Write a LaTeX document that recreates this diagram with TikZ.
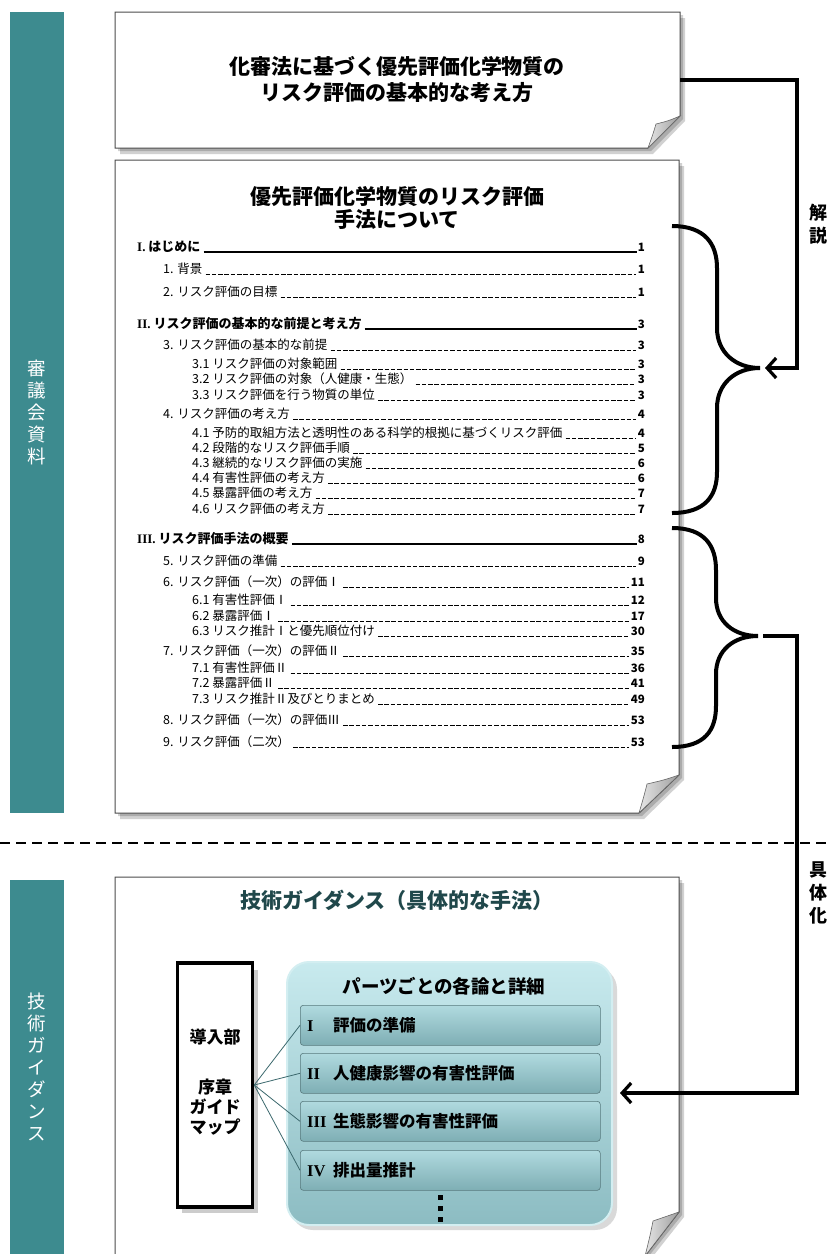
\documentclass[tikz,border=0pt]{standalone}
\usepackage{fontspec}
\newfontfamily\jp{Noto Sans CJK JP}
\newfontfamily\lserif{Liberation Serif}
\usetikzlibrary{arrows.meta,calc}
\definecolor{teal1}{RGB}{61,139,143}
\definecolor{gtitle}{RGB}{32,72,75}
\definecolor{pnlTop}{RGB}{200,234,238}
\definecolor{pnlBot}{RGB}{140,188,194}
\definecolor{rowTop}{RGB}{176,218,223}
\definecolor{rowBot}{RGB}{126,174,180}
\definecolor{fanc}{RGB}{60,105,110}
\tikzset{
  paper/.style={fill=white, draw=black!70, line width=1pt},
  papershadow/.style={fill=black, opacity=0.18},
  flap/.style={draw=black!60, line width=0.6pt, left color=black!10, right color=black!38},
  sidebar/.style={fill=teal1, text=white, inner sep=0pt, minimum width=54pt, align=center,
     font=\jp\fontsize{18.5}{22}\selectfont},
  doctitle/.style={font=\jp\bfseries\fontsize{21}{26}\selectfont, align=center, inner sep=0pt},
  tocA/.style={font=\jp\bfseries\fontsize{13}{15}\selectfont, inner sep=0pt},
  tocB/.style={font=\jp\fontsize{12.5}{15}\selectfont, inner sep=0pt},
  tocAlead/.style={line width=1.6pt, shorten <=3pt, shorten >=1pt},
  tocBlead/.style={line width=1pt, dash pattern=on 4.5pt off 1.8pt, shorten <=3pt, shorten >=2pt},
  pagenum/.style={font=\jp\bfseries\fontsize{11.5}{14}\selectfont, inner sep=0pt},
  brace/.style={line width=4pt},
  conn/.style={line width=3.2pt},
  barb/.style={-{Straight Barb[length=9pt,width=20pt]}},
  sidelabel/.style={font=\jp\bfseries\fontsize{18}{23}\selectfont, align=center, inner sep=0pt},
  guidebox/.style={draw=black, line width=3.5pt, fill=white, minimum width=75pt, minimum height=244pt, inner sep=0pt},
  guidetext/.style={font=\jp\bfseries\fontsize{17}{20}\selectfont, align=center, inner sep=0pt},
  rowbox/.style={draw=rowBot!70!black, line width=0.6pt, rounded corners=3pt, top color=rowTop, bottom color=rowBot,
     minimum width=300pt, minimum height=40pt, inner sep=0pt},
  rowtext/.style={font=\jp\bfseries\fontsize{16.5}{20}\selectfont, inner sep=0pt},
  fan/.style={draw=fanc, line width=0.8pt},
}
\newcommand\tocline[6]{%
  \node[#2, anchor=base west] (#1) at (#3,#4) {#5};
  \node[pagenum, anchor=base east] (#1p) at (645,#4) {#6};
  \draw[#2lead] ([yshift=-1pt]#1.base east) -- ([yshift=-1pt]#1p.base west);
}
\newcommand\rn[1]{\makebox[26pt][l]{\lserif\bfseries #1}}
\begin{document}
\begin{tikzpicture}[x=1pt,y=-1pt]
\useasboundingbox (0,0) rectangle (830,1254);
\fill[white] (0,0) rectangle (830,1254);

% side bars
\node[sidebar, minimum height=801pt, anchor=north west] (sb1) at (10,12) {審\\議\\会\\資\\料};
\node[sidebar, minimum height=374pt, anchor=north west] (sb2) at (10,880) {技\\術\\ガ\\イ\\ダ\\ン\\ス};

% ---------- document 1
\fill[papershadow] (120,18) -- (685,18) -- (685,121) -- (653,154) -- (120,154) -- cycle;
\fill[papershadow] (118,15) -- (683,15) -- (683,119) -- (651,151) -- (118,151) -- cycle;
\draw[paper] (115,12) -- (680,12) -- (680,116) -- (648,148) -- (115,148) -- cycle;
\draw[flap] (680,116) .. controls (668,121) .. (656,124) .. controls (653,134) .. (648,148) -- cycle;
\node[doctitle] (d1t) at (397,80) {化審法に基づく優先評価化学物質の\\リスク評価の基本的な考え方};
\coordinate (d1e) at (680,80);

% ---------- document 2
\fill[papershadow] (120,166) -- (684,166) -- (684,780) -- (644,819) -- (120,819) -- cycle;
\fill[papershadow] (118,163) -- (682,163) -- (682,778) -- (642,816) -- (118,816) -- cycle;
\draw[paper] (115,160) -- (679,160) -- (679,775) -- (639,813) -- (115,813) -- cycle;
\draw[flap] (679,775) .. controls (664,780) .. (647,784) .. controls (644,796) .. (639,813) -- cycle;
\node[doctitle, font=\jp\bfseries\fontsize{21}{23}\selectfont] (d2t) at (397,208) {優先評価化学物質のリスク評価\\手法について};

\tocline{e1}{tocA}{137}{251}{{\lserif\bfseries I.} はじめに}{1}
\tocline{e2}{tocB}{163}{273}{1. 背景}{1}
\tocline{e3}{tocB}{163}{296}{2. リスク評価の目標}{1}
\tocline{e4}{tocA}{137}{328}{{\lserif\bfseries II.} リスク評価の基本的な前提と考え方}{3}
\tocline{e5}{tocB}{163}{349}{3. リスク評価の基本的な前提}{3}
\tocline{e6}{tocB}{192}{368}{3.1 リスク評価の対象範囲}{3}
\tocline{e7}{tocB}{192}{383}{3.2 リスク評価の対象（人健康・生態）}{3}
\tocline{e8}{tocB}{192}{399}{3.3 リスク評価を行う物質の単位}{3}
\tocline{e9}{tocB}{163}{418}{4. リスク評価の考え方}{4}
\tocline{e10}{tocB}{192}{437}{4.1 予防的取組方法と透明性のある科学的根拠に基づくリスク評価}{4}
\tocline{e11}{tocB}{192}{452}{4.2 段階的なリスク評価手順}{5}
\tocline{e12}{tocB}{192}{467}{4.3 継続的なリスク評価の実施}{6}
\tocline{e13}{tocB}{192}{482}{4.4 有害性評価の考え方}{6}
\tocline{e14}{tocB}{192}{497}{4.5 暴露評価の考え方}{7}
\tocline{e15}{tocB}{192}{513}{4.6 リスク評価の考え方}{7}
\tocline{e16}{tocA}{137}{543}{{\lserif\bfseries III.} リスク評価手法の概要}{8}
\tocline{e17}{tocB}{163}{565}{5. リスク評価の準備}{9}
\tocline{e18}{tocB}{163}{586}{6. リスク評価（一次）の評価Ⅰ}{11}
\tocline{e19}{tocB}{192}{604}{6.1 有害性評価Ⅰ}{12}
\tocline{e20}{tocB}{192}{620}{6.2 暴露評価Ⅰ}{17}
\tocline{e21}{tocB}{192}{635}{6.3 リスク推計Ⅰと優先順位付け}{30}
\tocline{e22}{tocB}{163}{655}{7. リスク評価（一次）の評価Ⅱ}{35}
\tocline{e23}{tocB}{192}{672}{7.1 有害性評価Ⅱ}{36}
\tocline{e24}{tocB}{192}{687}{7.2 暴露評価Ⅱ}{41}
\tocline{e25}{tocB}{192}{703}{7.3 リスク推計Ⅱ及びとりまとめ}{49}
\tocline{e26}{tocB}{163}{724}{8. リスク評価（一次）の評価Ⅲ}{53}
\tocline{e27}{tocB}{163}{746}{9. リスク評価（二次）}{53}

% braces
\draw[brace] (672,226) .. controls (705,226) and (717,244) .. (717,268) -- (717,328)
  .. controls (717,352) and (735,368) .. (760,368)
  .. controls (735,368) and (717,384) .. (717,408) -- (717,472)
  .. controls (717,496) and (705,513) .. (672,513);
\draw[brace] (672,528) .. controls (705,528) and (716,546) .. (716,570) -- (716,598)
  .. controls (716,622) and (734,636) .. (758,636)
  .. controls (734,636) and (716,650) .. (716,674) -- (716,706)
  .. controls (716,730) and (705,747) .. (672,747);
\coordinate (b1tip) at (765,368);
\coordinate (b2tip) at (763,636);
\coordinate (rail1) at (797,80);
\coordinate (rail2) at (797,636);

% connectors
\draw[conn, barb] (d1e) -- (rail1) |- (b1tip);
\node[sidelabel] (lbl1) at (818,224) {解\\説};

% divider
\coordinate (dvL) at (0,843);
\coordinate (dvR) at (830,843);
\draw[line width=2.6pt, dash pattern=on 10pt off 6pt] (dvL) -- (dvR);

% ---------- document 3
\fill[papershadow] (120,883) -- (684,883) -- (684,1217) -- (650,1260) -- (120,1260) -- cycle;
\fill[papershadow] (118,880) -- (682,880) -- (682,1215) -- (648,1257) -- (118,1257) -- cycle;
\draw[paper] (115,877) -- (679,877) -- (679,1212) -- (645,1256) -- (115,1256) -- cycle;
\draw[flap] (679,1212) .. controls (666,1217) .. (653,1221) .. controls (650,1236) .. (645,1256) -- cycle;
\node[font=\jp\bfseries\fontsize{21}{24}\selectfont, text=gtitle, inner sep=0pt] (d3t) at (397,900) {技術ガイダンス（具体的な手法）};

% guide box
\fill[black, opacity=0.2] (182,970) rectangle (258,1213);
\node[guidebox] (gb) at (215,1085) {};
\node[guidetext] (gb1) at (215,1037) {導入部};
\node[guidetext] (gb2) at (215,1107) {序章\\ガイド\\マップ};

% panel
\fill[black, opacity=0.15] (291,967) [rounded corners=22pt] rectangle (617,1230);
\draw[draw=pnlTop!80!white, line width=2pt, top color=pnlTop, bottom color=pnlBot, rounded corners=22pt] (287,962) rectangle (612,1225);
\coordinate (pnlE) at (620,1093);
\node[font=\jp\bfseries\fontsize{18.5}{22}\selectfont, inner sep=0pt] (ph) at (444,986) {パーツごとの各論と詳細};

\node[rowbox, anchor=north west] (r1) at (300,1005) {};
\node[rowbox, anchor=north west] (r2) at (300,1053) {};
\node[rowbox, anchor=north west] (r3) at (300,1101) {};
\node[rowbox, anchor=north west] (r4) at (300,1150) {};
\node[rowtext, anchor=west] (r1t) at ([xshift=7pt]r1.west) {\rn{I}評価の準備};
\node[rowtext, anchor=west] (r2t) at ([xshift=7pt]r2.west) {\rn{II}人健康影響の有害性評価};
\node[rowtext, anchor=west] (r3t) at ([xshift=7pt]r3.west) {\rn{III}生態影響の有害性評価};
\node[rowtext, anchor=west] (r4t) at ([xshift=7pt]r4.west) {\rn{IV}排出量推計};
\fill (438,1195) rectangle (443,1200);
\fill (438,1206) rectangle (443,1211);
\fill (438,1217) rectangle (443,1222);

\draw[fan] (gb.east) -- (r1.west);
\draw[fan] (gb.east) -- (r2.west);
\draw[fan] (gb.east) -- (r3.west);
\draw[fan] (gb.east) -- (r4.west);

\draw[conn, barb] (b2tip) -- (rail2) |- (pnlE);
\node[sidelabel] (lbl2) at (818,893) {具\\体\\化};
\end{tikzpicture}
\end{document}
